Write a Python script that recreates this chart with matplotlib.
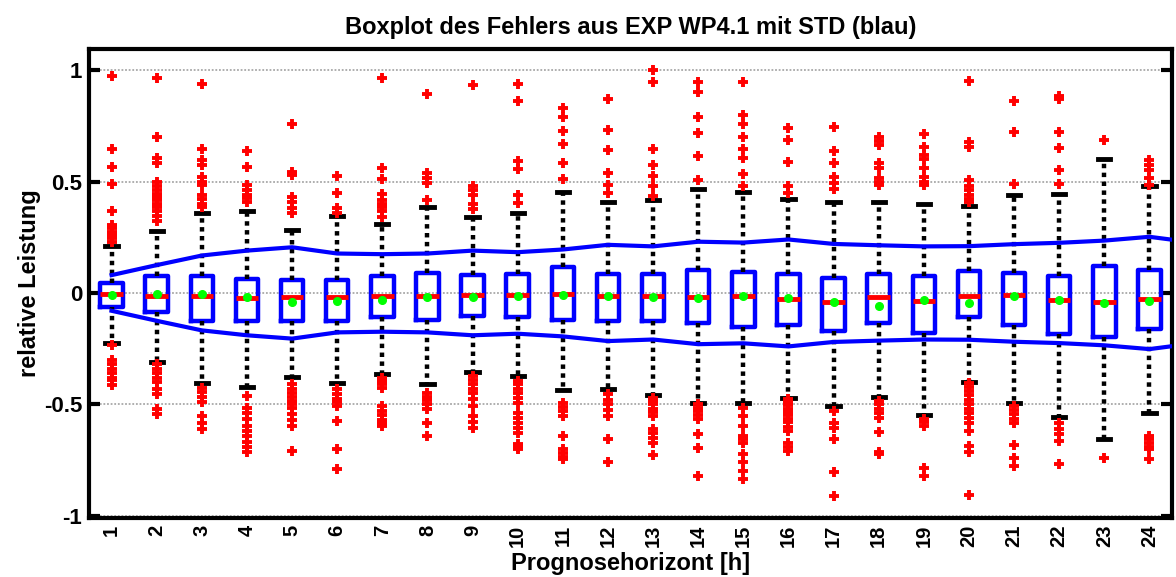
import matplotlib
matplotlib.use("Agg")
import matplotlib.pyplot as plt

plt.rcParams['font.family'] = ['Liberation Sans', 'DejaVu Sans']
plt.rcParams['font.weight'] = 'bold'

# Forecast horizon in hours
horizon = list(range(1, 25))

# Box statistics of the relative forecast error per horizon
q3 = [0.045, 0.075, 0.078, 0.063, 0.060, 0.060, 0.075, 0.090, 0.082, 0.087, 0.116, 0.087,
      0.087, 0.105, 0.094, 0.085, 0.067, 0.085, 0.078, 0.100, 0.090, 0.075, 0.122, 0.101]
q1 = [-0.064, -0.084, -0.127, -0.124, -0.124, -0.127, -0.109, -0.120, -0.102, -0.109, -0.120, -0.127,
      -0.127, -0.134, -0.152, -0.142, -0.169, -0.137, -0.179, -0.107, -0.146, -0.184, -0.199, -0.162]
median = [-0.006, -0.012, -0.014, -0.022, -0.019, -0.016, -0.012, -0.012, -0.009, -0.008, -0.005, -0.013,
          -0.012, -0.016, -0.014, -0.028, -0.042, -0.018, -0.037, -0.014, -0.008, -0.030, -0.041, -0.028]
mean = [-0.011, -0.005, -0.003, -0.018, -0.039, -0.034, -0.033, -0.020, -0.018, -0.012, -0.011, -0.013,
        -0.016, -0.024, -0.012, -0.024, -0.039, -0.057, -0.033, -0.045, -0.015, -0.033, -0.046, -0.037]
whisker_hi = [0.210, 0.280, 0.358, 0.366, 0.284, 0.346, 0.309, 0.388, 0.340, 0.361, 0.452, 0.406,
              0.418, 0.466, 0.455, 0.421, 0.406, 0.406, 0.398, 0.392, 0.440, 0.445, 0.600, 0.478]
whisker_lo = [-0.224, -0.309, -0.406, -0.422, -0.378, -0.406, -0.366, -0.410, -0.355, -0.373, -0.437, -0.433,
              -0.460, -0.493, -0.493, -0.470, -0.507, -0.466, -0.549, -0.398, -0.496, -0.555, -0.657, -0.537]

# Standard deviation of the error (horizons 1..25)
std_horizon = list(range(1, 26))
std = [0.080, 0.125, 0.168, 0.190, 0.205, 0.177, 0.174, 0.177, 0.190, 0.183, 0.195, 0.216,
       0.209, 0.230, 0.226, 0.240, 0.220, 0.214, 0.209, 0.210, 0.219, 0.225, 0.235, 0.252, 0.226]

# Outliers per horizon
outliers = [
    [0.975, 0.646, 0.567, 0.49, 0.366, 0.306, 0.29, 0.275, 0.26, 0.245, 0.23,
     -0.235, -0.30, -0.32, -0.34, -0.36, -0.38, -0.39, -0.415],
    [0.963, 0.701, 0.604, 0.585, 0.50, 0.48, 0.46, 0.445, 0.43, 0.415, 0.40, 0.385, 0.366, 0.345, 0.322,
     -0.32, -0.34, -0.36, -0.38, -0.40, -0.43, -0.455, -0.52, -0.545],
    [0.936, 0.645, 0.597, 0.575, 0.522, 0.50, 0.485, 0.44, 0.42, 0.40, 0.388,
     -0.425, -0.445, -0.465, -0.49, -0.552, -0.582, -0.612],
    [0.638, 0.567, 0.485, 0.463, 0.44, 0.425, 0.41,
     -0.463, -0.515, -0.537, -0.567, -0.597, -0.62, -0.64, -0.67, -0.69, -0.714],
    [0.757, 0.545, 0.53, 0.43, 0.41, 0.38, 0.358,
     -0.41, -0.43, -0.448, -0.465, -0.485, -0.50, -0.515, -0.545, -0.57, -0.597, -0.71],
    [0.527, 0.448, 0.38, 0.358,
     -0.433, -0.455, -0.478, -0.49, -0.507, -0.575, -0.701, -0.79],
    [0.963, 0.56, 0.51, 0.443, 0.418, 0.40, 0.388, 0.366, 0.343,
     -0.38, -0.395, -0.41, -0.425, -0.507, -0.53, -0.55, -0.57, -0.585, -0.597],
    [0.895, 0.54, 0.515, 0.492, 0.415,
     -0.448, -0.465, -0.48, -0.50, -0.522, -0.582, -0.641],
    [0.933, 0.48, 0.46, 0.44, 0.40, 0.378,
     -0.373, -0.39, -0.41, -0.43, -0.45, -0.475, -0.507, -0.552, -0.58, -0.604],
    [0.94, 0.861, 0.593, 0.555, 0.44, 0.405,
     -0.396, -0.41, -0.43, -0.45, -0.47, -0.493, -0.537, -0.56, -0.582, -0.605, -0.627, -0.679, -0.69, -0.701],
    [0.829, 0.788, 0.728, 0.668, 0.582, 0.51,
     -0.493, -0.51, -0.53, -0.552, -0.641, -0.701, -0.72, -0.735, -0.746],
    [0.87, 0.73, 0.64, 0.54, 0.485, 0.45,
     -0.455, -0.48, -0.50, -0.525, -0.552, -0.657, -0.758],
    [1.0, 0.948, 0.645, 0.575, 0.525, 0.478, 0.433,
     -0.47, -0.485, -0.50, -0.52, -0.535, -0.552, -0.612, -0.63, -0.65, -0.672, -0.728],
    [0.945, 0.903, 0.788, 0.719, 0.615, 0.507,
     -0.50, -0.515, -0.53, -0.55, -0.567, -0.634, -0.694, -0.821],
    [0.945, 0.80, 0.758, 0.698, 0.645, 0.605, 0.534, 0.478,
     -0.515, -0.552, -0.597, -0.641, -0.655, -0.672, -0.724, -0.761, -0.798, -0.833],
    [0.739, 0.687, 0.587, 0.478, 0.448,
     -0.478, -0.49, -0.505, -0.52, -0.535, -0.55, -0.565, -0.58, -0.60, -0.62, -0.672, -0.69, -0.709],
    [0.746, 0.639, 0.582, 0.522, 0.493, 0.466,
     -0.53, -0.582, -0.604, -0.657, -0.803, -0.91],
    [0.698, 0.68, 0.664, 0.582, 0.56, 0.515, 0.50, 0.485,
     -0.485, -0.50, -0.52, -0.54, -0.56, -0.624, -0.715, -0.724],
    [0.713, 0.657, 0.62, 0.60, 0.56, 0.522, 0.50, 0.485,
     -0.567, -0.58, -0.597, -0.784, -0.821],
    [0.952, 0.679, 0.657, 0.507, 0.478, 0.46, 0.44, 0.42, 0.41,
     -0.403, -0.42, -0.44, -0.46, -0.48, -0.50, -0.52, -0.54, -0.56, -0.582, -0.619, -0.687, -0.716, -0.907],
    [0.861, 0.721, 0.488,
     -0.507, -0.525, -0.545, -0.565, -0.582, -0.683, -0.739, -0.776],
    [0.885, 0.869, 0.721, 0.649, 0.552, 0.488,
     -0.582, -0.61, -0.634, -0.664, -0.769],
    [0.687,
     -0.743],
    [0.597, 0.575, 0.552, 0.515, 0.485,
     -0.641, -0.657, -0.672, -0.69, -0.701, -0.746],
]

tick_labels = [str(h) for h in horizon]

stats = []
for i, h in enumerate(horizon):
    stats.append(dict(label=tick_labels[i], med=median[i], q1=q1[i], q3=q3[i],
                      whislo=whisker_lo[i], whishi=whisker_hi[i],
                      mean=mean[i], fliers=outliers[i]))

fig = plt.figure(figsize=(11.76, 5.77), dpi=100)
ax = fig.add_axes([0.0757, 0.1023, 0.9209, 0.8128])

ax.set_axisbelow(True)
ax.yaxis.grid(True, linestyle=(0, (1, 1)), color='#a8a8a8', linewidth=1.3)

ax.bxp(stats, positions=horizon, widths=0.5, showmeans=True, showfliers=True,
       capwidths=0.27,
       boxprops=dict(color='#0000ff', linewidth=3.2),
       whiskerprops=dict(color='black', linewidth=3.2, linestyle=(0, (1, 1))),
       capprops=dict(color='black', linewidth=3.5),
       medianprops=dict(color='#ff0000', linewidth=3.5),
       meanprops=dict(marker='o', markerfacecolor='#00ff00', markeredgecolor='#00ff00',
                      markersize=5.5),
       flierprops=dict(marker='+', markeredgecolor='#ff0000', markersize=7.5,
                       markeredgewidth=2.8, linestyle='none'))

ax.plot(std_horizon, std, color='#0000ff', linewidth=3, zorder=4)
ax.plot(std_horizon, [-s for s in std], color='#0000ff', linewidth=3, zorder=4)

ax.set_xlim(0.5, 24.5)
ax.set_ylim(-1.01, 1.095)
ax.set_yticks([-1, -0.5, 0, 0.5, 1])
ax.set_yticklabels(['-1', '-0.5', '0', '0.5', '1'])
ax.set_xticks(horizon)
ax.set_xticklabels(tick_labels, rotation=90)

ax.tick_params(axis='y', direction='in', length=8, width=3, left=True, right=True,
               labelsize=16, pad=5)
ax.tick_params(axis='x', length=0, labelsize=14.5, pad=5)
for lab in ax.get_xticklabels() + ax.get_yticklabels():
    lab.set_fontweight('bold')

for sp in ax.spines.values():
    sp.set_linewidth(3)
    sp.set_color('black')

ax.set_title('Boxplot des Fehlers aus EXP WP4.1 mit STD (blau)', fontsize=17,
             fontweight='bold', pad=11)
ax.set_xlabel('Prognosehorizont [h]', fontsize=17, fontweight='bold', labelpad=3)
ax.set_ylabel('relative Leistung', fontsize=17, fontweight='bold', labelpad=2)

fig.savefig('out.png', dpi=100)
